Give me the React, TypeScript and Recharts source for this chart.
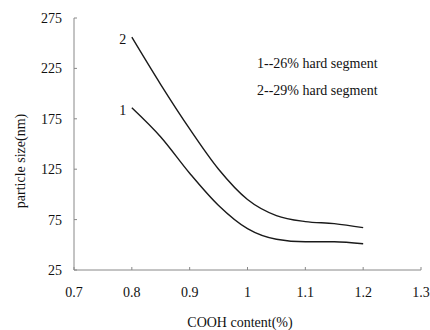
import { LineChart, Line, XAxis, YAxis } from "recharts"

// COOH content (%)
const cooh = [0.8, 0.85, 0.9, 0.95, 1.0, 1.05, 1.1, 1.15, 1.2]
// particle size (nm)
const hard26 = [186, 157, 121, 89, 66, 55.5, 53, 53, 51]
const hard29 = [256, 209, 165, 125, 95, 79, 73, 71, 67]

const xTicks = [0.7, 0.8, 0.9, 1, 1.1, 1.2, 1.3]
const yTicks = [25, 75, 125, 175, 225, 275]
const legendLines = ["1--26% hard segment", "2--29% hard segment"]

const data = cooh.map((c, i) => ({ cooh: c, s1: hard26[i], s2: hard29[i] }))

const font = "'Liberation Serif', 'Times New Roman', serif"
const tickStyle = { fontFamily: font, fontSize: 14, fill: "#111" }

const curveLabel = (name: string) => (props: any) => {
  if (props.index !== 0) return null
  return (
    <text x={props.x - 9} y={props.y + 7} textAnchor="middle" fontFamily={font} fontSize={14} style={{ fill: "#111" }}>
      {name}
    </text>
  )
}

export default function App() {
  return (
    <div style={{ position: "absolute", left: 0, top: 0, background: "#fff" }}>
      <LineChart width={430} height={330} data={data} margin={{ top: 18, right: 9, left: 0, bottom: 30 }}>
        <XAxis
          dataKey="cooh"
          type="number"
          domain={[0.7, 1.3]}
          ticks={xTicks}
          tickFormatter={(v) => String(v)}
          height={30}
          stroke="#888"
          tickSize={-3}
          tickMargin={20}
          tick={tickStyle}
        />
        <YAxis
          type="number"
          domain={[25, 275]}
          ticks={yTicks}
          width={74}
          stroke="#888"
          tickSize={-3}
          tickMargin={15}
          tick={tickStyle}
        />
        <Line type="monotone" dataKey="s1" stroke="#1a1a1a" strokeWidth={1.4} dot={false} isAnimationActive={false} label={curveLabel("1")} />
        <Line type="monotone" dataKey="s2" stroke="#1a1a1a" strokeWidth={1.4} dot={false} isAnimationActive={false} label={curveLabel("2")} />
        {legendLines.map((t, i) => (
          <text key={t} x={257} y={68 + i * 27} fontFamily={font} fontSize={14} fill="#111">
            {t}
          </text>
        ))}
        <text x={240} y={327} textAnchor="middle" fontFamily={font} fontSize={14} fill="#111">
          COOH content(%)
        </text>
        <text x={20} y={161} transform="rotate(-90, 20, 161)" dy={5} textAnchor="middle" fontFamily={font} fontSize={14} fill="#111">
          particle size(nm)
        </text>
      </LineChart>
    </div>
  )
}
